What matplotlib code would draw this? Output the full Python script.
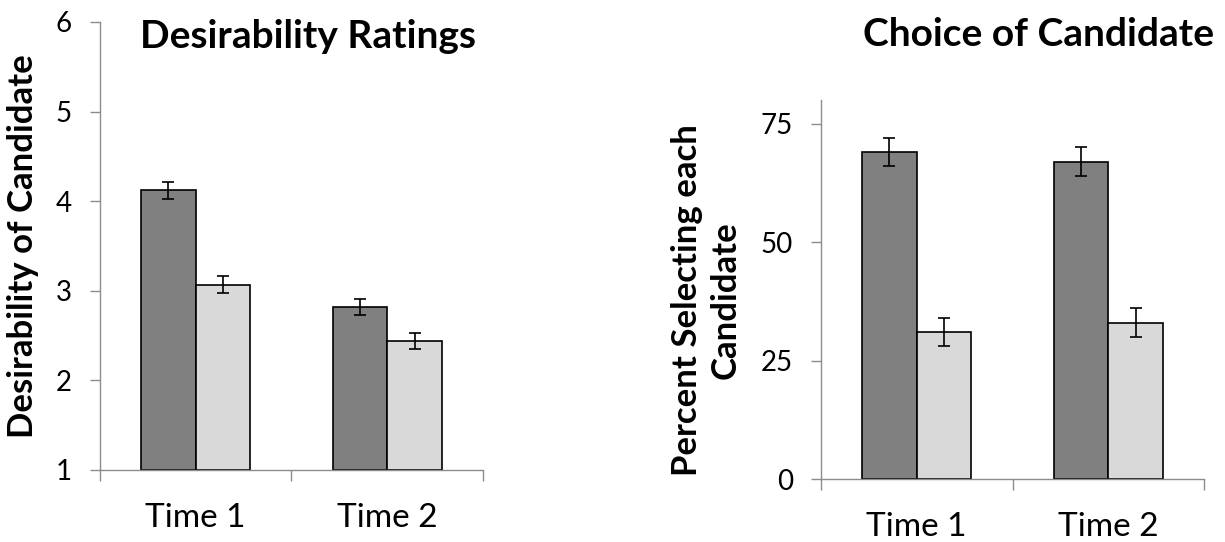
import matplotlib
matplotlib.use("Agg")
import matplotlib.pyplot as plt
import numpy as np

plt.rcParams['font.family'] = ['Lato', 'DejaVu Sans']

categories = ["Time 1", "Time 2"]

# Left panel: desirability ratings
desir_dark = [4.12, 2.82]
desir_dark_err = [0.09, 0.09]
desir_light = [3.07, 2.44]
desir_light_err = [0.09, 0.085]

# Right panel: percent choosing each candidate
choice_dark = [69, 67]
choice_dark_err = [3, 3]
choice_light = [31, 33]
choice_light_err = [3, 3]

DARK = "#808080"
LIGHT = "#d9d9d9"
AXC = "#8c8c8c"

W, H = 1225, 542
fig = plt.figure(figsize=(W / 100, H / 100), dpi=100)

def px_axes(x0, x1, ytop, ybot):
    return fig.add_axes([x0 / W, 1 - ybot / H, (x1 - x0) / W, (ybot - ytop) / H])

ax1 = px_axes(100, 483, 22, 470)
ax2 = px_axes(821, 1204, 100, 479)

def draw(ax, dark, dark_err, light, light_err, ylim, yticks):
    x = np.arange(len(categories)) + 0.5
    w = 0.285
    b = ylim[0]
    ax.bar(x - w / 2, np.array(dark) - b, w, bottom=b, color=DARK,
           edgecolor="black", linewidth=1.2, zorder=2)
    ax.bar(x + w / 2, np.array(light) - b, w, bottom=b, color=LIGHT,
           edgecolor="black", linewidth=1.2, zorder=2)
    ax.errorbar(x - w / 2, dark, yerr=dark_err, fmt="none", ecolor="black",
                elinewidth=1.2, capsize=4, capthick=1.2, zorder=3)
    ax.errorbar(x + w / 2, light, yerr=light_err, fmt="none", ecolor="black",
                elinewidth=1.2, capsize=4, capthick=1.2, zorder=3)
    ax.set_xlim(0, len(categories))
    ax.set_ylim(*ylim)
    ax.set_yticks(yticks)
    ax.set_xticks(np.arange(len(categories) + 1))
    ax.set_xticklabels([])
    ax.set_xticks(x, minor=True)
    ax.set_xticklabels(categories, minor=True)
    for s in ["top", "right"]:
        ax.spines[s].set_visible(False)
    for s in ["left", "bottom"]:
        ax.spines[s].set_color(AXC)
        ax.spines[s].set_linewidth(1.0)
    ax.tick_params(axis="y", direction="out", length=7.2, width=1.0,
                   color=AXC, labelsize=20, pad=13)
    ax.tick_params(axis="x", which="major", direction="out", length=8,
                   width=1.0, color=AXC)
    ax.tick_params(axis="x", which="minor", length=0, labelsize=24, pad=24)

draw(ax1, desir_dark, desir_dark_err, desir_light, desir_light_err, (1, 6), [1, 2, 3, 4, 5, 6])
draw(ax2, choice_dark, choice_dark_err, choice_light, choice_light_err, (0, 80), [0, 25, 50, 75])

fig.text(308 / W, 1 - 37 / H, "Desirability Ratings", ha="center", va="center",
         fontsize=28, fontweight="bold")
fig.text(1039 / W, 1 - 35 / H, "Choice of Candidate", ha="center", va="center",
         fontsize=28, fontweight="bold")
fig.text(23 / W, 1 - 246 / H, "Desirability of Candidate", ha="center", va="center",
         rotation=90, fontsize=25, fontweight="bold")
fig.text(706 / W, 1 - 300 / H, "Percent Selecting each\nCandidate", ha="center",
         va="center", rotation=90, fontsize=25, fontweight="bold", linespacing=1.25)

fig.savefig("out.png", dpi=100)
